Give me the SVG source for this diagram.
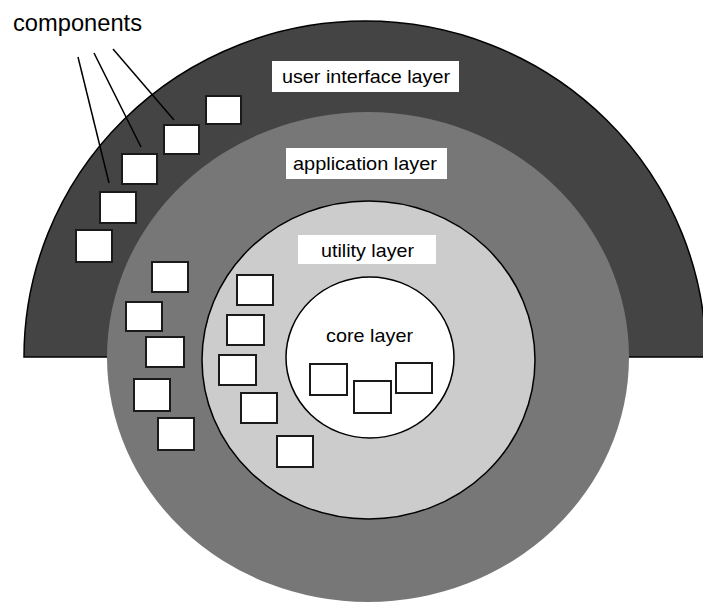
<svg xmlns="http://www.w3.org/2000/svg" width="703" height="603" viewBox="0 0 703 603">
<style>
.lbl{font-family:"Liberation Sans",Arial,sans-serif;font-size:19px;fill:#000;text-anchor:middle}
.box{fill:#fff;stroke:#1a1a1a;stroke-width:2}
.tag{fill:#fff;stroke:none}
.conn{stroke:#000;stroke-width:1.5;fill:none}
</style>
<rect width="703" height="603" fill="#fff"/>
<g id="ui-layer">
<path d="M24,357 A341,336 0 0 1 706,357 Z" fill="#444444" stroke="#000" stroke-width="1.5"/>
</g>
<g id="application-layer">
<ellipse cx="368" cy="357" rx="261" ry="245" fill="#777777"/>
</g>
<g id="utility-layer">
<ellipse cx="368.5" cy="360" rx="166.5" ry="159" fill="#cccccc" stroke="#000" stroke-width="1.5"/>
</g>
<g id="core-layer">
<ellipse cx="370" cy="357.5" rx="84" ry="80.5" fill="#fff" stroke="#000" stroke-width="1.5"/>
</g>
<g id="labels">
<rect class="tag" x="272" y="61" width="187" height="31"/>
<text class="lbl" x="366" y="83" textLength="168" lengthAdjust="spacingAndGlyphs">user interface layer</text>
<rect class="tag" x="286" y="148" width="161" height="31"/>
<text class="lbl" x="365" y="170" textLength="144" lengthAdjust="spacingAndGlyphs">application layer</text>
<rect class="tag" x="298" y="235" width="138" height="29"/>
<text class="lbl" x="367.5" y="257" textLength="93" lengthAdjust="spacingAndGlyphs">utility layer</text>
<text class="lbl" x="369.5" y="342" textLength="87" lengthAdjust="spacingAndGlyphs">core layer</text>
</g>
<g id="components-label">
<text x="13" y="31" font-family="Liberation Sans, Arial, sans-serif" font-size="23" textLength="129" lengthAdjust="spacingAndGlyphs">components</text>
</g>
<g id="ui-components">
<rect class="box" x="206" y="96" width="35" height="28"/>
<rect class="box" x="164" y="125" width="35" height="29"/>
<rect class="box" x="122" y="154" width="35" height="30"/>
<rect class="box" x="100" y="192" width="36" height="31"/>
<rect class="box" x="76" y="230" width="36" height="32"/>
</g>
<g id="app-components">
<rect class="box" x="152" y="262" width="36" height="30"/>
<rect class="box" x="126" y="302" width="36" height="29"/>
<rect class="box" x="146" y="337" width="38" height="30"/>
<rect class="box" x="134" y="379" width="36" height="32"/>
<rect class="box" x="158" y="418" width="36" height="32"/>
</g>
<g id="utility-components">
<rect class="box" x="237" y="275" width="36" height="30"/>
<rect class="box" x="227" y="315" width="37" height="30"/>
<rect class="box" x="219" y="355" width="37" height="30"/>
<rect class="box" x="241" y="393" width="36" height="30"/>
<rect class="box" x="277" y="436" width="36" height="31"/>
</g>
<g id="core-components">
<rect class="box" x="310" y="364" width="37" height="31"/>
<rect class="box" x="354" y="381" width="37" height="32"/>
<rect class="box" x="396" y="363" width="36" height="30"/>
</g>
<g id="connectors">
<line class="conn" x1="78" y1="57" x2="109" y2="183"/>
<line class="conn" x1="94" y1="53" x2="141" y2="147"/>
<line class="conn" x1="113" y1="49" x2="174" y2="120"/>
</g>
</svg>
